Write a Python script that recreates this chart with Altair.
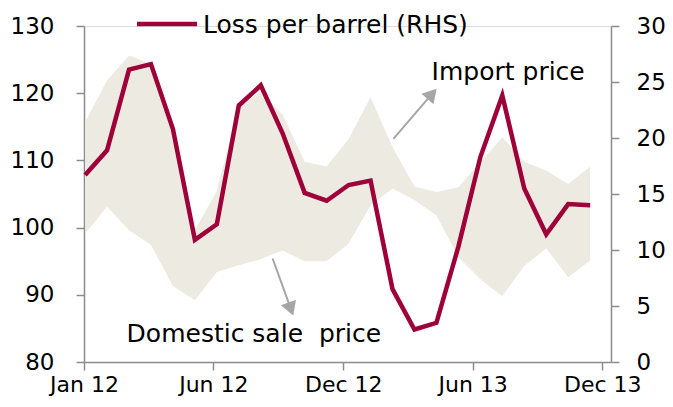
import altair as alt
import pandas as pd

# ---- data ----
months = ["Jan 12", "Feb 12", "Mar 12", "Apr 12", "May 12", "Jun 12",
          "Jul 12", "Aug 12", "Sep 12", "Oct 12", "Nov 12", "Dec 12",
          "Jan 13", "Feb 13", "Mar 13", "Apr 13", "May 13", "Jun 13",
          "Jul 13", "Aug 13", "Sep 13", "Oct 13", "Nov 13", "Dec 13"]
loss_per_barrel = [16.7, 18.9, 26.1, 26.6, 20.8, 10.9, 12.3, 22.9, 24.7, 20.4,
                   15.1, 14.4, 15.8, 16.2, 6.5, 2.9, 3.5, 10.3, 18.3, 23.8,
                   15.5, 11.4, 14.1, 14.0]
import_price = [115.7, 121.9, 125.6, 124.4, 114.8, 99.6, 105.5, 118.2, 120.2, 116.8,
                109.8, 109.1, 113.2, 119.4, 112.0, 106.1, 105.3, 106.0, 109.8, 113.4,
                109.8, 108.5, 106.5, 109.1]
domestic_price = [99.1, 103.1, 99.6, 97.4, 91.3, 89.2, 93.4, 94.4, 95.3, 96.6,
                  95.0, 95.0, 97.6, 103.3, 105.8, 104.1, 101.8, 95.6, 92.3, 89.8,
                  94.3, 96.9, 92.6, 95.1]

x_tick_labels = ["Jan 12", "Jun 12", "Dec 12", "Jun 13", "Dec 13"]
x_tick_pos = [-0.05, 5.84, 11.76, 17.65, 23.55]
left_ticks = [80, 90, 100, 110, 120, 130]
right_ticks = [0, 5, 10, 15, 20, 25, 30]

# annotations (data coordinates: month index, LHS value)
ann_text = ["Import price", "Domestic sale\u00a0 price"]
ann_x = [15.78, 1.89]
ann_y = [121.9, 82.98]
arrow_x1 = [14.04, 8.54]
arrow_y1 = [113.2, 95.4]
arrow_x2 = [15.80, 9.37]
arrow_y2 = [119.9, 87.9]
arrow_angle = [41, 160]

legend_label = "Loss per barrel (RHS)"

FONT = "DejaVu Sans"
RED = "#9E0039"
BEIGE = "#EDEBE1"
GREY = "#A6A6A6"
AXIS_GREY = "#8C8C8C"

df = pd.DataFrame({
    "i": list(range(len(months))),
    "month": months,
    "loss": loss_per_barrel,
    "imp": import_price,
    "dom": domestic_price,
})
ann_df = pd.DataFrame({"text": ann_text, "x": ann_x, "y": ann_y})
arr_df = pd.DataFrame({"x1": arrow_x1, "y1": arrow_y1, "x2": arrow_x2,
                       "y2": arrow_y2, "angle": arrow_angle})

label_expr = " : ".join(
    f"datum.value < {p + 0.5} ? '{l}'" for p, l in zip(x_tick_pos[:-1], x_tick_labels[:-1])
) + f" : '{x_tick_labels[-1]}'"

x_scale = alt.Scale(domain=[-0.05, 23.95], nice=False, zero=False)
x_axis = alt.Axis(values=x_tick_pos, labelExpr=label_expr, title=None,
                  grid=False, tickSize=8, labelPadding=4, labelFontSize=22,
                  labelFont=FONT, labelColor="#000", domainColor=AXIS_GREY,
                  tickColor=AXIS_GREY, domainWidth=1.5, tickWidth=1.5,
                  labelFlush=False, labelOverlap=False)
yl_scale = alt.Scale(domain=[80, 130], nice=False, zero=False)
yl_axis = alt.Axis(values=left_ticks, title=None, grid=False, tickSize=8,
                   labelPadding=22, labelFontSize=23, labelFont=FONT,
                   labelColor="#000", domainColor=AXIS_GREY, tickColor=AXIS_GREY,
                   domainWidth=1.5, tickWidth=1.5, labelFlush=False)
yr_scale = alt.Scale(domain=[0, 30], nice=False, zero=False)
yr_axis = alt.Axis(values=right_ticks, orient="right", title=None, grid=False,
                   tickSize=8, labelPadding=17, labelFontSize=23, labelFont=FONT,
                   labelColor="#000", domainColor=AXIS_GREY, tickColor=AXIS_GREY,
                   domainWidth=1.5, tickWidth=1.5, labelFlush=False)

base = alt.Chart(df)

area = base.mark_area(color=BEIGE, opacity=1).encode(
    x=alt.X("i:Q", scale=x_scale, axis=x_axis),
    y=alt.Y("imp:Q", scale=yl_scale, axis=yl_axis),
    y2="dom:Q",
)

texts = alt.Chart(ann_df).mark_text(
    align="left", baseline="alphabetic", font=FONT, fontSize=25, color="#000"
).encode(
    x=alt.X("x:Q", scale=x_scale, axis=x_axis),
    y=alt.Y("y:Q", scale=yl_scale, axis=yl_axis),
    text="text:N",
)

shafts = alt.Chart(arr_df).mark_rule(color=GREY, strokeWidth=2).encode(
    x=alt.X("x1:Q", scale=x_scale, axis=x_axis),
    y=alt.Y("y1:Q", scale=yl_scale, axis=yl_axis),
    x2="x2:Q",
    y2="y2:Q",
)

heads = alt.Chart(arr_df).mark_point(
    shape="triangle-up", filled=True, color=GREY, opacity=1, size=256
).encode(
    x=alt.X("x2:Q", scale=x_scale, axis=x_axis),
    y=alt.Y("y2:Q", scale=yl_scale, axis=yl_axis),
    angle=alt.Angle("angle:Q", scale=None),
)

legend_line = alt.Chart(df.head(1)).mark_rule(color=RED, strokeWidth=4.5).encode(
    x=alt.value(53), x2=alt.value(113), y=alt.value(-2)
)
legend_text = alt.Chart(pd.DataFrame({"t": [legend_label]})).mark_text(
    align="left", baseline="alphabetic", font=FONT, fontSize=25, color="#000"
).encode(x=alt.value(119), y=alt.value(7), text="t:N")

left = alt.layer(area, texts, shafts, heads, legend_line, legend_text)

line = base.mark_line(color=RED, strokeWidth=4.5, strokeJoin="miter").encode(
    x=alt.X("i:Q", scale=x_scale, axis=x_axis),
    y=alt.Y("loss:Q", scale=yr_scale, axis=yr_axis),
)

chart = alt.layer(left, line).resolve_scale(y="independent").properties(
    width=527, height=336,
    padding={"left": 76, "top": 18, "right": 54, "bottom": 37},
    autosize="none",
).configure_view(stroke=None).configure(background="white")

chart.save("out.html", embed_options={"renderer": "svg", "actions": False})
